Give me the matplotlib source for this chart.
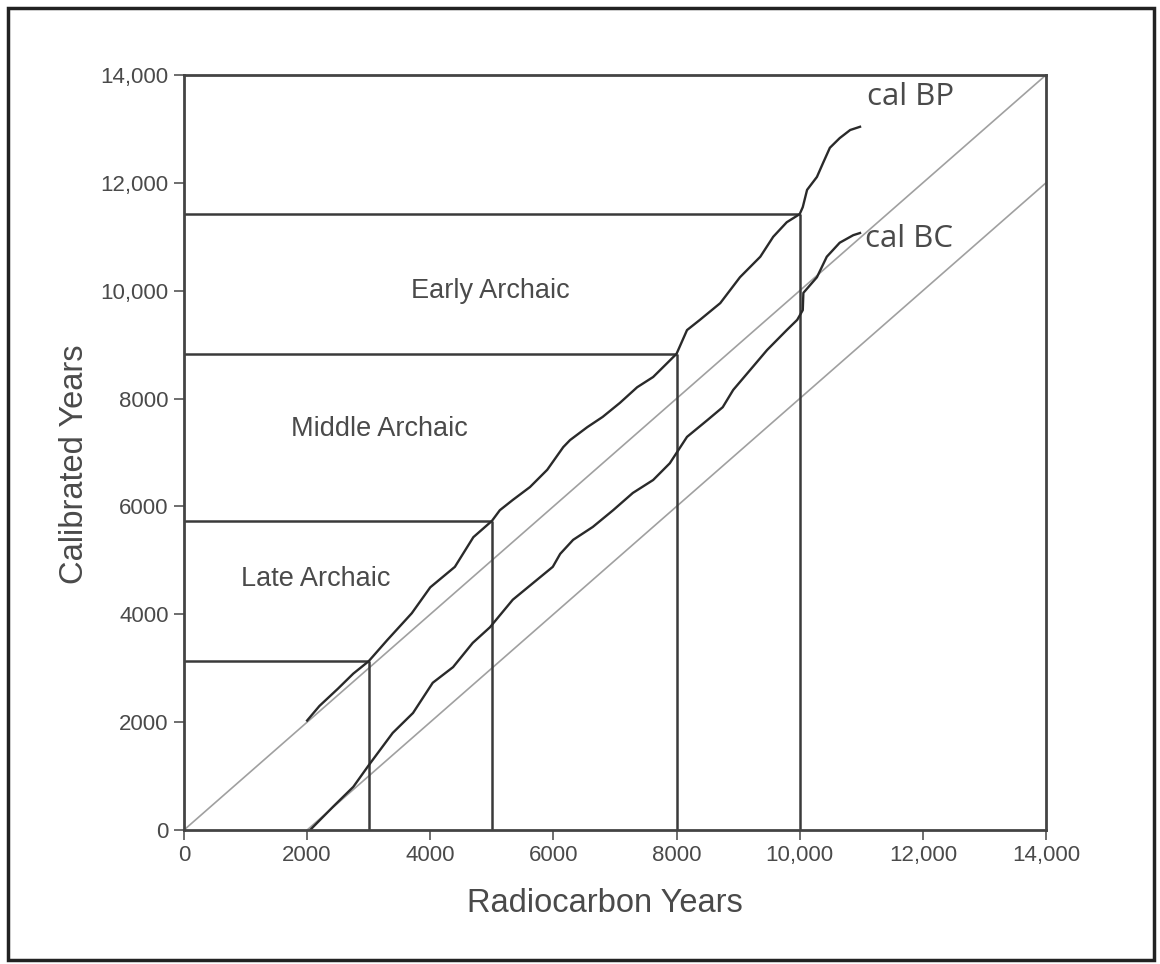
import matplotlib
matplotlib.use('Agg')
import matplotlib.pyplot as plt
from matplotlib.patches import Rectangle

plt.rcParams['font.family'] = ['Liberation Sans', 'DejaVu Sans']

# calibration curve, cal BP
rad_bp = [2000, 2200, 2500, 2750, 3000, 3300, 3700, 4000, 4400, 4700, 5000,
          5130, 5340, 5620, 5900, 6160, 6270, 6550, 6800, 7080, 7360, 7620,
          7850, 8000, 8170, 8380, 8710, 9030, 9360, 9570, 9790, 10000, 10050,
          10120, 10280, 10380, 10490, 10650, 10820, 10980]
cal_bp = [2030, 2300, 2620, 2900, 3130, 3520, 4020, 4500, 4880, 5430, 5730,
          5930, 6120, 6360, 6680, 7100, 7230, 7470, 7660, 7920, 8210, 8400,
          8660, 8830, 9270, 9460, 9770, 10250, 10630, 11000, 11270, 11420, 11550,
          11870, 12110, 12370, 12650, 12830, 12980, 13040]

# calibration curve, cal BC
rad_bc = [2050, 2100, 2420, 2750, 3000, 3390, 3720, 4040, 4370, 4690, 4970,
          5340, 5670, 5990, 6110, 6320, 6640, 6970, 7290, 7620, 7890, 8170,
          8500, 8750, 8920, 9240, 9470, 9790, 9960, 10050, 10060, 10280, 10440,
          10650, 10870, 10980]
cal_bc = [0, 60, 430, 800, 1200, 1800, 2170, 2730, 3020, 3470, 3760,
          4270, 4580, 4880, 5120, 5380, 5620, 5930, 6250, 6490, 6800, 7290,
          7600, 7840, 8160, 8590, 8900, 9270, 9460, 9640, 9960, 10250, 10630,
          10890, 11030, 11070]

# period boundaries
bound_rc = [3000, 5000, 8000, 10000]
bound_cal = [3130, 5730, 8830, 11420]

periods = ['Early Archaic', 'Middle Archaic', 'Late Archaic']
period_x = [4970, 3180, 2140]
period_y = [9990, 7440, 4650]

ticks = [0, 2000, 4000, 6000, 8000, 10000, 12000, 14000]
tick_labels = ['0', '2000', '4000', '6000', '8000', '10,000', '12,000', '14,000']

dark = '#3a3a3a'
txt = '#4a4a4a'

fig = plt.figure(figsize=(11.6, 9.64), dpi=100)
ax = fig.add_axes([0.1586, 0.139, 0.7431, 0.7832])

# 1:1 and offset reference lines
ax.plot([0, 14000], [0, 14000], color='#a0a0a0', lw=1.2)
ax.plot([2000, 14000], [0, 12000], color='#a0a0a0', lw=1.2)

# boundary lines
for xr, yc in zip(bound_rc, bound_cal):
    ax.plot([xr, xr], [0, yc], color=dark, lw=1.8, solid_capstyle='butt')
    ax.plot([0, xr], [yc, yc], color=dark, lw=1.8, solid_capstyle='butt')

ax.plot(rad_bp, cal_bp, color='#2a2a2a', lw=1.7)
ax.plot(rad_bc, cal_bc, color='#2a2a2a', lw=1.7)

for name, px, py in zip(periods, period_x, period_y):
    ax.text(px, py, name, ha='center', va='center', fontsize=19.5, color=txt)

ax.text(11100, 13600, 'cal BP', ha='left', va='center', fontsize=22.5,
        color=txt, family=['Open Sans', 'DejaVu Sans'])
ax.text(11060, 10960, 'cal BC', ha='left', va='center', fontsize=22.5,
        color=txt, family=['Open Sans', 'DejaVu Sans'])

ax.set_xlim(0, 14000)
ax.set_ylim(0, 14000)
ax.set_xticks(ticks)
ax.set_xticklabels(tick_labels)
ax.set_yticks(ticks)
ax.set_yticklabels(tick_labels)
ax.tick_params(direction='out', length=7, width=1.2, color='#555555',
               labelsize=16, labelcolor=txt, pad=4)
for s in ax.spines.values():
    s.set_color('#444444')
    s.set_linewidth(2)

ax.set_xlabel('Radiocarbon Years', fontsize=23.5, color=txt)
ax.set_ylabel('Calibrated Years', fontsize=23.5, color=txt)
ax.xaxis.set_label_coords(0.488, -0.077)
ax.yaxis.set_label_coords(-0.109, 0.485)

# outer frame
fig.patches.append(Rectangle((0.007, 0.004), 0.988, 0.988, transform=fig.transFigure,
                             fill=False, edgecolor='#222222', lw=2.5))

fig.savefig('out.png', dpi=100)
